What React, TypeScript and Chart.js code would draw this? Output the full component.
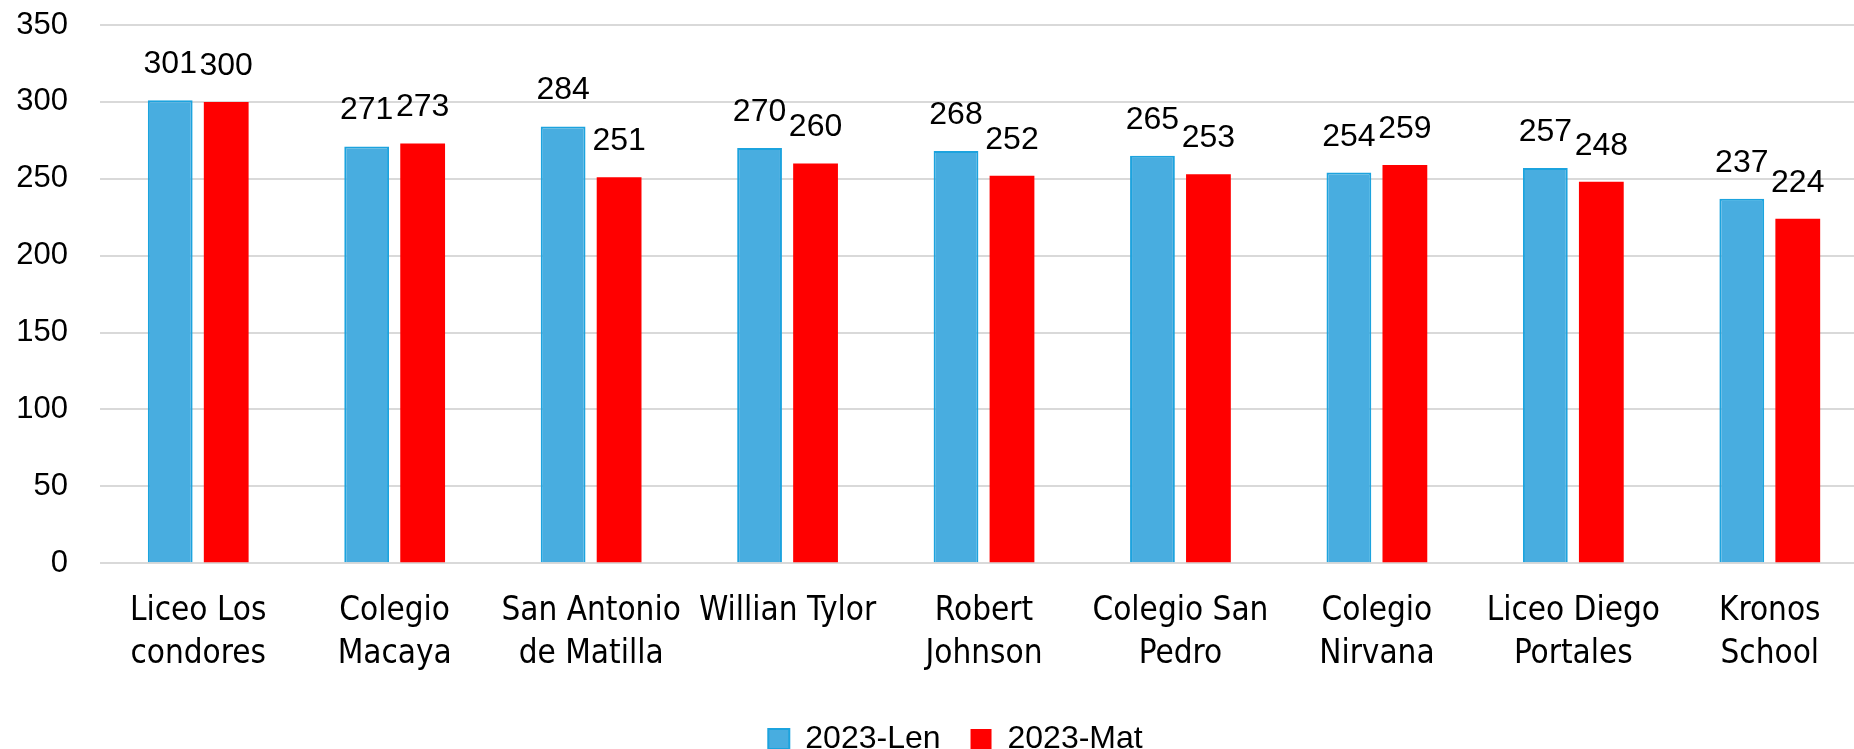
import React, { useEffect, useRef } from "react";
import { Chart, registerables } from "chart.js";

Chart.register(...registerables);

const categories: string[][] = [
  ["Liceo Los", "condores"],
  ["Colegio", "Macaya"],
  ["San Antonio", "de Matilla"],
  ["Willian Tylor"],
  ["Robert", "Johnson"],
  ["Colegio San", "Pedro"],
  ["Colegio", "Nirvana"],
  ["Liceo Diego", "Portales"],
  ["Kronos", "School"],
];

const seriesNames = ["2023-Len", "2023-Mat"];
const lenValues = [301, 271, 284, 270, 268, 265, 254, 257, 237];
const matValues = [300, 273, 251, 260, 252, 253, 259, 248, 224];
const yTicks = [0, 50, 100, 150, 200, 250, 300, 350];

const dataLabelPlugin = {
  id: "dataLabels",
  afterDatasetsDraw(chart: any) {
    const ctx = chart.ctx;
    ctx.save();
    ctx.font = "32px 'Liberation Sans', Arial, sans-serif";
    ctx.fillStyle = "#000";
    ctx.textAlign = "center";
    ctx.textBaseline = "alphabetic";
    chart.data.datasets.forEach((ds: any, di: number) => {
      const meta = chart.getDatasetMeta(di);
      meta.data.forEach((bar: any, i: number) => {
        ctx.fillText(String(ds.data[i]), bar.x, bar.y - 27);
      });
    });
    ctx.restore();
  },
};

const legendShiftPlugin = {
  id: "legendShift",
  afterLayout(chart: any) {
    const l = chart.legend;
    if (l) {
      l.left += 15;
      l.right += 15;
    }
  },
};

export default function App() {
  const ref = useRef<HTMLCanvasElement>(null);
  useEffect(() => {
    if (!ref.current) return;
    const chart = new Chart(ref.current, {
      type: "bar",
      data: {
        labels: categories,
        datasets: [
          {
            label: seriesNames[0],
            data: lenValues,
            backgroundColor: "#48ADE0",
            borderColor: "#1CA3DE",
            borderWidth: 2,
            categoryPercentage: 0.57,
            barPercentage: 0.8,
          },
          {
            label: seriesNames[1],
            data: matValues,
            backgroundColor: "#FF0000",
            borderWidth: 0,
            categoryPercentage: 0.57,
            barPercentage: 0.8,
          },
        ],
      },
      options: {
        animation: false,
        responsive: true,
        maintainAspectRatio: false,
        layout: { padding: { left: 13, right: 12, top: 25, bottom: 0 } },
        plugins: {
          legend: {
            position: "bottom",
            labels: {
              boxWidth: 21,
              boxHeight: 20,
              padding: 30,
              color: "#000",
              font: { family: "'Liberation Sans', Arial, sans-serif", size: 32 },
            },
          },
          tooltip: { enabled: false },
        },
        scales: {
          x: {
            grid: { display: false, drawTicks: false },
            border: { display: false },
            afterFit: (scale: any) => {
              scale.paddingLeft = 0;
              scale.paddingRight = 0;
              scale.height = scale.height - 10;
            },
            ticks: {
              autoSkip: false,
              maxRotation: 0,
              padding: 27,
              color: "#000",
              font: {
                family: "'Liberation Sans Narrow', 'Arial Narrow', 'DejaVu Sans Condensed', sans-serif",
                size: 33,
                lineHeight: 1.3,
              },
            },
          },
          y: {
            min: 0,
            max: 350,
            afterBuildTicks: (scale: any) => {
              scale.ticks = yTicks.map((v) => ({ value: v }));
            },
            afterFit: (scale: any) => {
              scale.paddingTop = 0;
              scale.paddingBottom = 0;
              scale.width = 87;
            },
            grid: { color: "#D9D9D9", lineWidth: 2, drawTicks: false },
            border: { display: false },
            ticks: {
              padding: 32,
              color: "#000",
              font: { family: "'Liberation Sans', Arial, sans-serif", size: 31 },
            },
          },
        },
      },
      plugins: [dataLabelPlugin, legendShiftPlugin],
    });
    return () => chart.destroy();
  }, []);
  return (
    <div style={{ position: "fixed", left: 0, top: 0, width: 1880, height: 765, background: "#fff" }}>
      <canvas ref={ref} />
    </div>
  );
}
